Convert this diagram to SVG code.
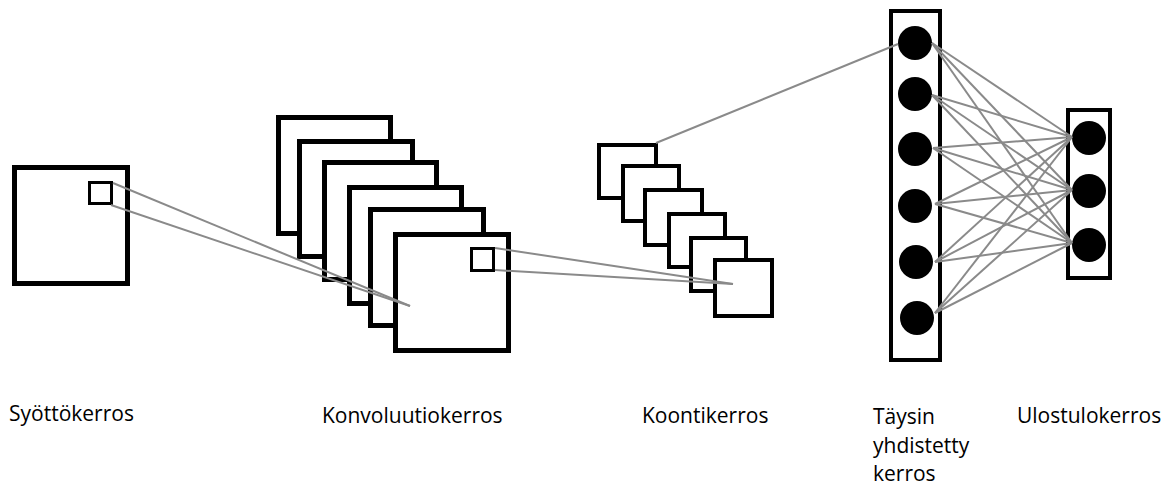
<svg xmlns="http://www.w3.org/2000/svg" width="1172" height="488" viewBox="0 0 1172 488">
<style>
.sq{fill:#fff;stroke:#000;stroke-width:5}
.sm{fill:#fff;stroke:#000;stroke-width:3}
.pq{fill:#fff;stroke:#000;stroke-width:4}
.col{fill:#fff;stroke:#000;stroke-width:4}
.n{fill:#000}
.ln{stroke:#8a8a8a;stroke-width:2;fill:none}
.lb{font-family:"Open Sans","Noto Sans",sans-serif;font-size:21px;fill:#000}
</style>
<rect width="1172" height="488" fill="#fff"/>
<g id="input">
<rect class="sq" x="14.5" y="167.5" width="113" height="116"/>
<rect class="sm" x="89.5" y="182.5" width="22" height="21"/>
</g>
<g id="conv">
<rect class="sq" x="278.5" y="117.5" width="112" height="116"/>
<rect class="sq" x="299.5" y="141.5" width="113" height="115"/>
<rect class="sq" x="324.5" y="162.5" width="112" height="117"/>
<rect class="sq" x="349.5" y="187.5" width="112" height="116"/>
<rect class="sq" x="370.5" y="209.5" width="113" height="116"/>
<rect class="sq" x="395.5" y="234.5" width="113" height="116"/>
<rect class="sm" x="471.5" y="248.5" width="22" height="22"/>
</g>
<g id="pool">
<rect class="pq" x="599" y="145" width="57" height="53"/>
<rect class="pq" x="623" y="166" width="56" height="55"/>
<rect class="pq" x="645" y="190" width="57" height="55"/>
<rect class="pq" x="669" y="214" width="56" height="53"/>
<rect class="pq" x="691" y="238" width="55" height="53"/>
<rect class="pq" x="715" y="260" width="57" height="56"/>
</g>
<g id="fc">
<rect class="col" x="891" y="11" width="49" height="349"/>
<circle class="n" cx="915" cy="43" r="17"/>
<circle class="n" cx="915" cy="94" r="17"/>
<circle class="n" cx="915" cy="149" r="17"/>
<circle class="n" cx="915" cy="206" r="17"/>
<circle class="n" cx="916" cy="262" r="17"/>
<circle class="n" cx="917" cy="318" r="17"/>
</g>
<g id="output">
<rect class="col" x="1068" y="110" width="42" height="168"/>
<circle class="n" cx="1089" cy="138" r="17"/>
<circle class="n" cx="1089" cy="191" r="17"/>
<circle class="n" cx="1089" cy="245" r="17"/>
</g>
<g id="connectors" class="ln">
<line x1="113" y1="183" x2="410" y2="306"/>
<line x1="111" y1="205" x2="410" y2="306"/>
<line x1="495" y1="248" x2="733" y2="284"/>
<line x1="495" y1="270" x2="733" y2="284"/>
<line x1="656" y1="143" x2="898" y2="44"/>
<line x1="932" y1="43" x2="1072" y2="137"/>
<line x1="932" y1="43" x2="1072" y2="190"/>
<line x1="932" y1="43" x2="1072" y2="243"/>
<line x1="932" y1="95" x2="1072" y2="137"/>
<line x1="932" y1="95" x2="1072" y2="190"/>
<line x1="932" y1="95" x2="1072" y2="243"/>
<line x1="933" y1="148" x2="1072" y2="137"/>
<line x1="933" y1="148" x2="1072" y2="190"/>
<line x1="933" y1="148" x2="1072" y2="243"/>
<line x1="935" y1="204" x2="1072" y2="137"/>
<line x1="935" y1="204" x2="1072" y2="190"/>
<line x1="935" y1="204" x2="1072" y2="243"/>
<line x1="935" y1="262" x2="1072" y2="137"/>
<line x1="935" y1="262" x2="1072" y2="190"/>
<line x1="935" y1="262" x2="1072" y2="243"/>
<line x1="935" y1="313" x2="1072" y2="137"/>
<line x1="935" y1="313" x2="1072" y2="190"/>
<line x1="935" y1="313" x2="1072" y2="243"/>
</g>
<g id="labels" class="lb">
<text x="9" y="421">Syöttökerros</text>
<text x="322" y="423">Konvoluutiokerros</text>
<text x="642" y="423">Koontikerros</text>
<text x="873" y="424">Täysin</text>
<text x="873" y="453">yhdistetty</text>
<text x="873" y="481">kerros</text>
<text x="1017" y="423">Ulostulokerros</text>
</g>
</svg>
